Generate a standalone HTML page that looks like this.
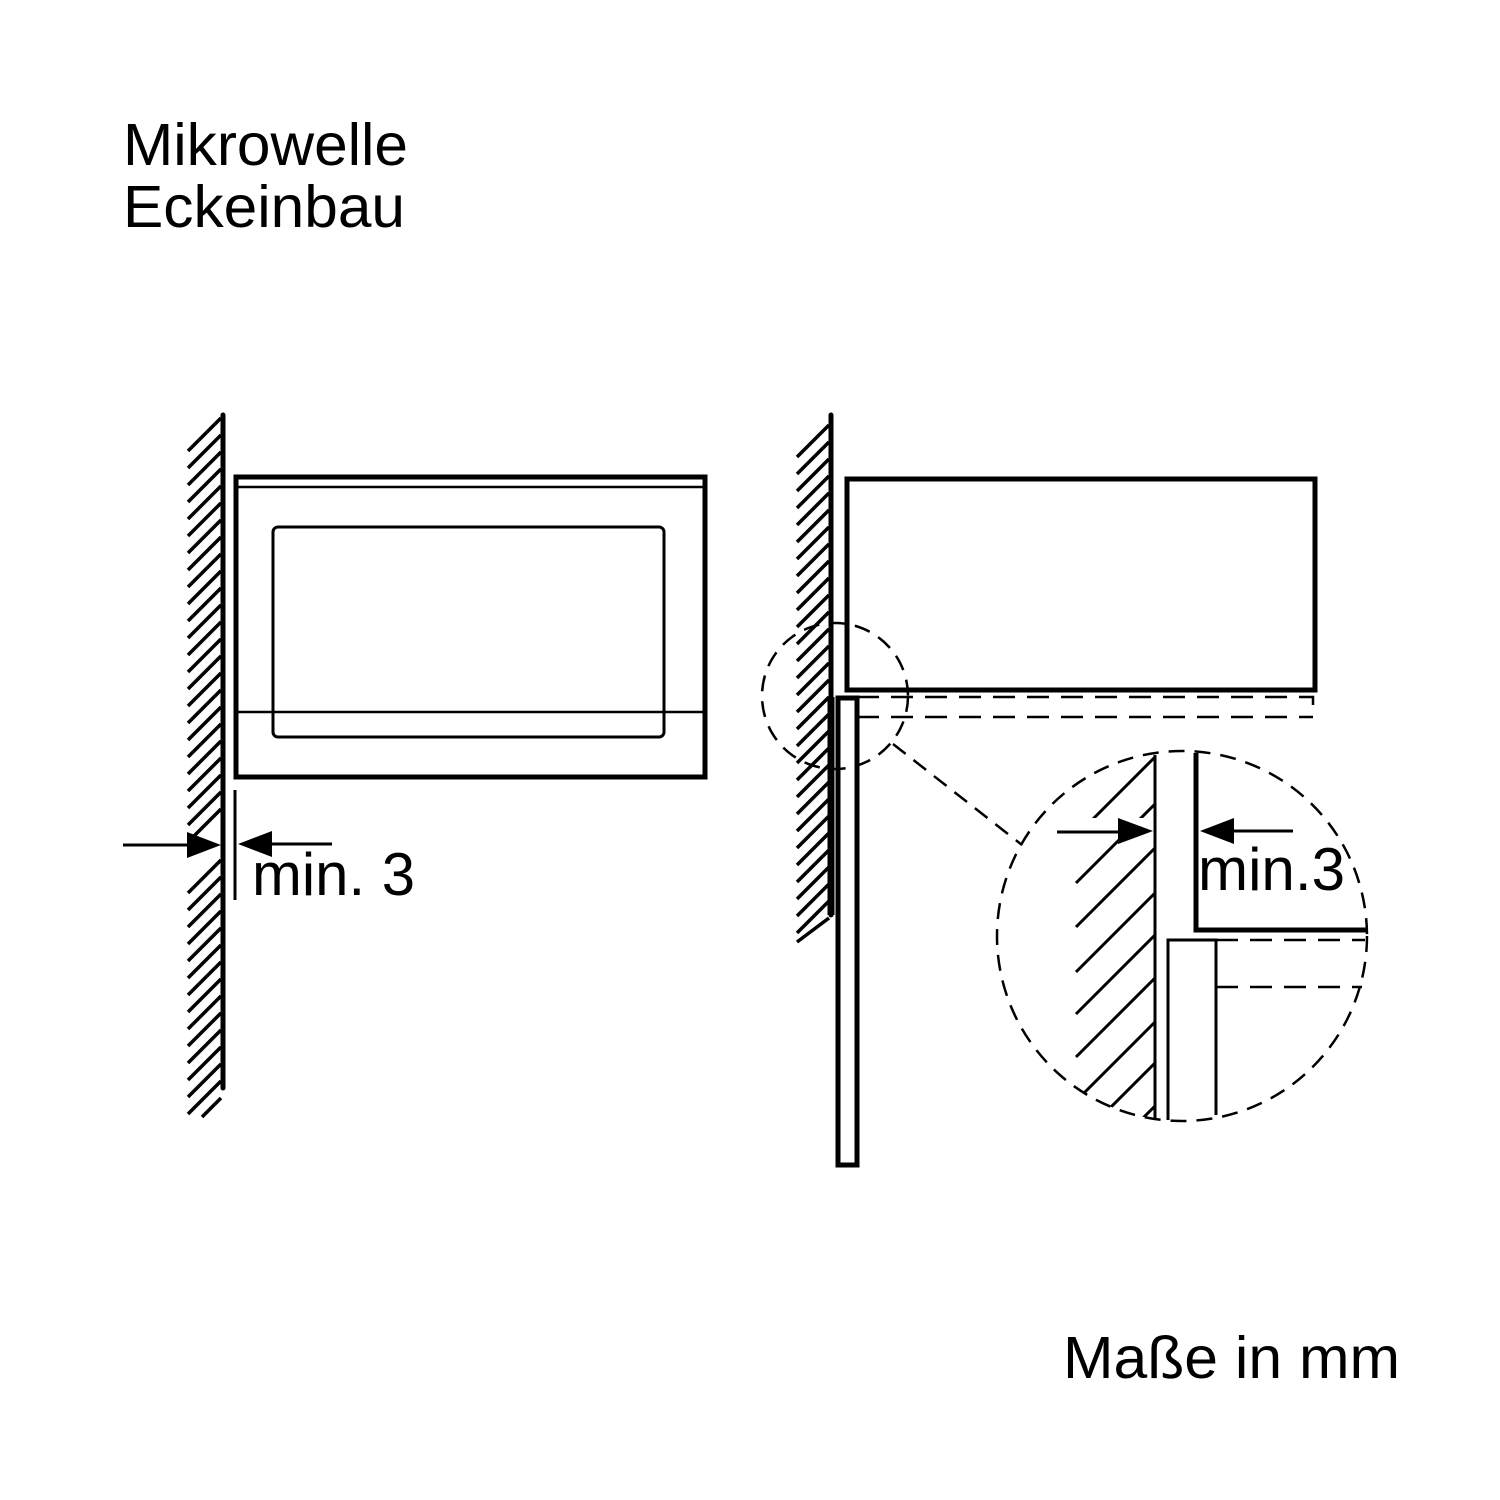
<!DOCTYPE html>
<html><head><meta charset="utf-8"><style>
html,body{margin:0;padding:0;background:#fff;}
svg{display:block;}
text{font-family:"Liberation Sans",Arial,sans-serif;fill:#000;}
</style></head><body>
<svg width="1500" height="1500" viewBox="0 0 1500 1500" xmlns="http://www.w3.org/2000/svg">
<defs>
<clipPath id="cl3"><circle cx="1182" cy="936" r="185"/></clipPath>
</defs>
<text x="123" y="165" font-size="59" textLength="285" lengthAdjust="spacingAndGlyphs">Mikrowelle</text>
<text x="123" y="227" font-size="59" textLength="282" lengthAdjust="spacingAndGlyphs">Eckeinbau</text>
<text x="1063" y="1378" font-size="59" textLength="337" lengthAdjust="spacingAndGlyphs">Maße in mm</text>

<!-- left wall -->
<g stroke="#000" stroke-width="3.5" fill="none">
<path d="M221 418 L188 451 M221 435 L188 468 M221 452 L188 485 M221 469 L188 502 M221 486 L188 519 M221 503 L188 536 M221 520 L188 553 M221 537 L188 570 M221 554 L188 587 M221 571 L188 604 M221 588 L188 621 M221 605 L188 638 M221 622 L188 655 M221 639 L188 672 M221 656 L188 689 M221 673 L188 706 M221 690 L188 723 M221 707 L188 740 M221 724 L188 757 M221 741 L188 774 M221 758 L188 791 M221 775 L188 808 M221 792 L188 825 M221 809 L188 842 M221 860 L188 893 M221 877 L188 910 M221 894 L188 927 M221 911 L188 944 M221 928 L188 961 M221 945 L188 978 M221 962 L188 995 M221 979 L188 1012 M221 996 L188 1029 M221 1013 L188 1046 M221 1030 L188 1063 M221 1047 L188 1080 M221 1064 L188 1097 M221 1081 L188 1114 M221 1098 L202 1117"/>
</g>
<line x1="223" y1="415" x2="223" y2="1088" stroke="#000" stroke-width="5" stroke-linecap="round"/>
<!-- microwave front -->
<rect x="236" y="477" width="469" height="300" fill="none" stroke="#000" stroke-width="5"/>
<line x1="238" y1="487" x2="703" y2="487" stroke="#000" stroke-width="2.5"/>
<line x1="238" y1="712" x2="703" y2="712" stroke="#000" stroke-width="2.5"/>
<rect x="273" y="527" width="391" height="210" rx="5" fill="none" stroke="#000" stroke-width="3"/>
<!-- left dimension -->
<line x1="235" y1="790" x2="235" y2="900" stroke="#000" stroke-width="3"/>
<line x1="123" y1="845" x2="190" y2="845" stroke="#000" stroke-width="3"/>
<polygon points="221,845 187,832 187,858" fill="#000"/>
<line x1="265" y1="844" x2="332" y2="844" stroke="#000" stroke-width="3"/>
<polygon points="238,844 272,831 272,857" fill="#000"/>
<text x="252" y="895" font-size="60" textLength="163" lengthAdjust="spacingAndGlyphs">min. 3</text>

<!-- right wall -->
<g stroke="#000" stroke-width="3.5">
<path d="M829 425 L797 457 M829 442 L797 474 M829 459 L797 491 M829 476 L797 508 M829 493 L797 525 M829 510 L797 542 M829 527 L797 559 M829 544 L797 576 M829 561 L797 593 M829 578 L797 610 M829 595 L797 627 M829 612 L797 644 M829 629 L797 661 M829 646 L797 678 M829 663 L797 695 M829 680 L797 712 M829 697 L797 729 M829 714 L797 746 M829 731 L797 763 M829 748 L797 780 M829 765 L797 797 M829 782 L797 814 M829 799 L797 831 M829 816 L797 848 M829 833 L797 865 M829 850 L797 882 M829 867 L797 899 M829 884 L797 916 M829 901 L797 933 M829 918 L797 942"/>
</g>
<line x1="831" y1="415" x2="831" y2="915" stroke="#000" stroke-width="5" stroke-linecap="round"/>
<line x1="831" y1="697" x2="831" y2="915" stroke="#000" stroke-width="7"/>
<!-- device side -->
<rect x="847" y="479" width="468" height="211" fill="none" stroke="#000" stroke-width="5"/>
<path d="M857 697 H1313 V712 M857 717 H1313" fill="none" stroke="#000" stroke-width="2.5" stroke-dasharray="22,12"/>
<rect x="838" y="698" width="19" height="467" fill="#fff" stroke="#000" stroke-width="5"/>
<!-- small circle + leader -->
<circle cx="835" cy="696" r="73" fill="none" stroke="#000" stroke-width="2.5" stroke-dasharray="16,10"/>
<line x1="893" y1="744" x2="1022" y2="845" stroke="#000" stroke-width="2.5" stroke-dasharray="16,10"/>
<!-- big circle detail -->
<g clip-path="url(#cl3)" stroke="#000" stroke-width="3">
<path d="M1155 757 L1076 836 M1155 804 L1076 883 M1155 848 L1076 927 M1155 893 L1076 972 M1155 935 L1076 1014 M1155 978 L1076 1057 M1155 1022 L1076 1101 M1155 1063 L1076 1142 M1155 1106 L1076 1185"/>
</g>
<rect x="1070" y="818" width="85" height="20" fill="#fff"/>
<circle cx="1182" cy="936" r="185" fill="none" stroke="#000" stroke-width="2.5" stroke-dasharray="16,10"/>
<line x1="1155" y1="755" x2="1155" y2="1120" stroke="#000" stroke-width="3"/>
<path d="M1168 1120 V940 H1216 V1115" fill="none" stroke="#000" stroke-width="3"/>
<path d="M1216 940 H1365 M1216 987 H1362" fill="none" stroke="#000" stroke-width="2.5" stroke-dasharray="22,12"/>
<path d="M1196 753 V930 H1367" fill="none" stroke="#000" stroke-width="5"/>
<line x1="1057" y1="832" x2="1125" y2="832" stroke="#000" stroke-width="3"/>
<polygon points="1153,831 1118,818 1118,844" fill="#000"/>
<line x1="1228" y1="831" x2="1293" y2="831" stroke="#000" stroke-width="3"/>
<polygon points="1200,831 1234,818 1234,844" fill="#000"/>
<text x="1198" y="890" font-size="60" textLength="147" lengthAdjust="spacingAndGlyphs">min.3</text>
</svg>
</body></html>
